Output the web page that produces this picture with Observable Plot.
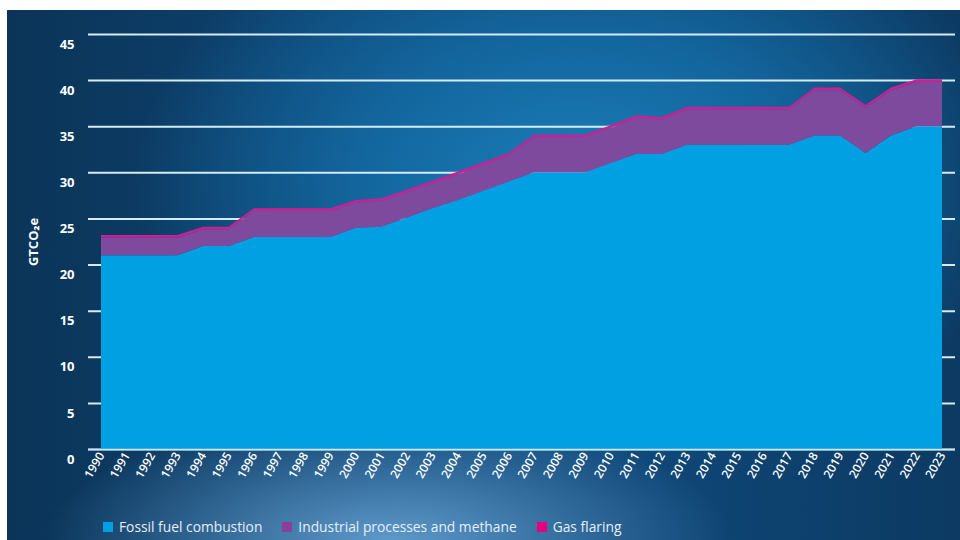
<!DOCTYPE html>
<html>
<head>
<meta charset="utf-8">
<script src="https://cdn.jsdelivr.net/npm/d3@7"></script>
<script src="https://cdn.jsdelivr.net/npm/@observablehq/plot@0.6"></script>
<style>
  html, body { margin: 0; padding: 0; background: #ffffff; }
  body { width: 960px; height: 540px; overflow: hidden; position: relative; font-family: "Open Sans", "Noto Sans", sans-serif; }
  #panel {
    position: absolute; left: 7px; top: 10px; width: 953px; height: 530px; overflow: hidden;
    background:
      radial-gradient(ellipse 36% 24% at 40% 100%, rgba(120,180,230,0.75) 0%, rgba(120,180,230,0) 100%),
      radial-gradient(ellipse 55% 65% at 60% 32%, #1c7db7 0%, #13679f 40%, rgba(14,80,128,0) 85%),
      linear-gradient(90deg, #0b3458 0%, #0e4878 45%, #0e4676 70%, #0c3a62 100%);
  }
  #chart { position: absolute; left: 0; top: 0; }
  #legend {
    position: absolute; left: 96px; top: 507px; display: flex; align-items: center;
    font-size: 13.8px; color: #e6eef7; white-space: nowrap;
  }
  .item { display: flex; align-items: center; margin-right: 20px; }
  .sw { width: 10px; height: 10px; margin-right: 6px; display: inline-block; }
</style>
</head>
<body>
<div id="panel">
  <div id="chart"></div>
  <div id="legend"></div>
</div>
<script>
// ---- data ----
const years = [1990, 1991, 1992, 1993, 1994, 1995, 1996, 1997, 1998, 1999,
               2000, 2001, 2002, 2003, 2004, 2005, 2006, 2007, 2008, 2009,
               2010, 2011, 2012, 2013, 2014, 2015, 2016, 2017, 2018, 2019,
               2020, 2021, 2022, 2023];
const fossil = [21.0, 21.0, 21.0, 21.0, 22.0, 22.0, 23.0, 23.0, 23.0, 23.0,
                24.0, 24.1, 25.1, 26.1, 27.0, 28.0, 29.0, 30.0, 30.0, 30.0,
                31.0, 32.0, 32.0, 33.0, 33.0, 33.0, 33.0, 33.0, 34.0, 34.0,
                32.1, 34.0, 35.0, 35.0];
const industrial = [1.9, 1.9, 1.9, 1.9, 1.8, 1.8, 2.8, 2.8, 2.8, 2.8,
                    2.7, 2.8, 2.7, 2.7, 2.8, 2.8, 2.8, 3.8, 3.8, 3.8,
                    3.8, 3.9, 3.7, 3.8, 3.8, 3.8, 3.8, 3.8, 4.9, 4.9,
                    4.9, 4.9, 4.8, 4.8];
const flaring = [0.3, 0.3, 0.3, 0.3, 0.3, 0.3, 0.3, 0.3, 0.3, 0.3,
                 0.3, 0.3, 0.3, 0.3, 0.3, 0.3, 0.3, 0.3, 0.3, 0.3,
                 0.3, 0.3, 0.3, 0.3, 0.3, 0.3, 0.3, 0.3, 0.3, 0.3,
                 0.3, 0.3, 0.3, 0.3];
const seriesNames = ["Fossil fuel combustion", "Industrial processes and methane", "Gas flaring"];
const seriesColors = ["#00a0e3", "#7e4a9e", "#c42396"];
const legendColors = ["#00a0e3", "#8a3f98", "#e5007e"];
const yTicks = [0, 5, 10, 15, 20, 25, 30, 35, 40, 45];
const yLabel = "GTCO\u2082e";

// ---- long table built from the arrays ----
const seriesValues = [fossil, industrial, flaring];
const rows = [];
years.forEach((yr, i) => {
  seriesNames.forEach((s, k) => rows.push({year: yr, series: s, value: seriesValues[k][i]}));
});

const chart = Plot.plot({
  width: 953,
  height: 490,
  marginLeft: 81,
  marginRight: 5,
  marginTop: 24,
  marginBottom: 51,
  insetLeft: 13,
  insetRight: 13,
  style: {background: "transparent", color: "#ffffff", fontFamily: "'Open Sans', sans-serif", overflow: "visible"},
  x: {domain: [d3.min(years), d3.max(years)], label: null},
  y: {domain: [0, 45], label: null},
  color: {domain: seriesNames, range: seriesColors},
  marks: [
    Plot.ruleY(yTicks, {stroke: "#d4ecf8", strokeWidth: 2}),
    Plot.areaY(rows, {x: "year", y: "value", z: "series", fill: "series", curve: "linear"}),
    Plot.ruleY([0], {stroke: "#cfe6f5", strokeWidth: 1.5}),
    Plot.axisY({
      ticks: yTicks, tickSize: 0, tickPadding: 14, dy: 10,
      fontSize: 13, fontWeight: "bold", fill: "#ffffff",
      label: yLabel, labelAnchor: "center", labelArrow: "none", labelOffset: 60
    }),
    Plot.axisX({
      ticks: years, tickFormat: d => String(d), tickRotate: -60,
      tickSize: 0, tickPadding: 4, fontSize: 12, fontWeight: 600, fill: "#ffffff", label: null
    })
  ]
});
document.getElementById("chart").appendChild(chart);

// ---- legend ----
const legend = document.getElementById("legend");
seriesNames.forEach((s, k) => {
  const it = document.createElement("div");
  it.className = "item";
  const sw = document.createElement("span");
  sw.className = "sw";
  sw.style.background = legendColors[k];
  const tx = document.createElement("span");
  tx.textContent = s;
  it.appendChild(sw); it.appendChild(tx);
  legend.appendChild(it);
});
</script>
</body>
</html>
